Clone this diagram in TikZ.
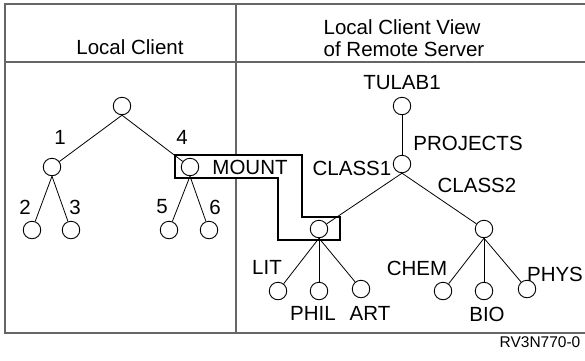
\documentclass[tikz,border=0pt]{standalone}
\usepackage{fontspec}
\setmainfont{Liberation Sans}
\usetikzlibrary{positioning}

\begin{document}
\begin{tikzpicture}[x=1pt, y=-1pt,
    every node/.style={font=\fontsize{20.5}{22}\selectfont, inner sep=0pt},
    dirnode/.style={circle, draw, fill=white, minimum size=17.5pt, line width=0.9pt},
    link/.style={line width=0.8pt},
    frameline/.style={line width=1.5pt, black!60}]
  \useasboundingbox (0,0) rectangle (585,360);

  % Frame and column headers
  \draw[frameline] (592,4) -- (5,4) -- (5,333) -- (592,333);
  \draw[frameline] (5,62) -- (592,62);
  \draw[frameline] (236,4) -- (236,333);
  \node (hleft) at (130,47) {Local Client};
  \node[align=left] (hright) at (404,38) {Local Client View\\of Remote Server};

  % Mount outline
  \draw[line width=2.8pt, fill=white] (175,155) -- (302,155) -- (302,217) -- (340,217)
    -- (340,240) -- (278,240) -- (278,178) -- (175,178) -- cycle;

  % Local client tree
  \node[dirnode] (lroot) at (122,106) {};
  \node[dirnode] (d1) at (52,167) {};
  \node[dirnode] (d4) at (190,167) {};
  \node[dirnode] (d2) at (32,230) {};
  \node[dirnode] (d3) at (71,230) {};
  \node[dirnode] (d5) at (169,230) {};
  \node[dirnode] (d6) at (209,230) {};
  \draw[link] (lroot.south) -- (d1);
  \draw[link] (lroot.south) -- (d4);
  \draw[link] (d1.south) -- (d2);
  \draw[link] (d1.south) -- (d3);
  \draw[link] (d4.south) -- (d5);
  \draw[link] (d4.south) -- (d6);
  \node (l1) at (60,137) {1};
  \node (l4) at (182,137) {4};
  \node (l2) at (25,207) {2};
  \node (l3) at (75,207) {3};
  \node (l5) at (162,207) {5};
  \node (l6) at (215,207) {6};
  \node (lmount) at (250,167) {MOUNT};

  % Remote server tree
  \node[dirnode] (tulab) at (402,106) {};
  \node[dirnode] (proj) at (402,164) {};
  \node[dirnode] (cls1) at (319,229) {};
  \node[dirnode] (cls2) at (484,229) {};
  \node[dirnode] (lit) at (278,291) {};
  \node[dirnode] (phil) at (319,291) {};
  \node[dirnode] (art) at (361,289) {};
  \node[dirnode] (chem) at (443,291) {};
  \node[dirnode] (bio) at (484,291) {};
  \node[dirnode] (phys) at (527,289) {};
  \draw[link] (tulab) -- (proj);
  \draw[link] (proj.south) -- (cls1);
  \draw[link] (proj.south) -- (cls2);
  \draw[link] (cls1.south) -- (lit);
  \draw[link] (cls1.south) -- (phil);
  \draw[link] (cls1.south) -- (art);
  \draw[link] (cls2.south) -- (chem);
  \draw[link] (cls2.south) -- (bio);
  \draw[link] (cls2.south) -- (phys);
  \node (ltulab) at (402,83) {TULAB1};
  \node (lproj) at (468,143) {PROJECTS};
  \node (lcls1) at (352,168) {CLASS1};
  \node (lcls2) at (477,185) {CLASS2};
  \node (llit) at (267,267) {LIT};
  \node (lphil) at (313,313) {PHIL};
  \node (lart) at (370,313) {ART};
  \node (lchem) at (417,268) {CHEM};
  \node (lbio) at (487,314) {BIO};
  \node (lphys) at (555,274) {PHYS};

  % Figure id
  \node[font=\fontsize{15.5}{18}\selectfont] (figid) at (540,342) {RV3N770-0};
\end{tikzpicture}
\end{document}
